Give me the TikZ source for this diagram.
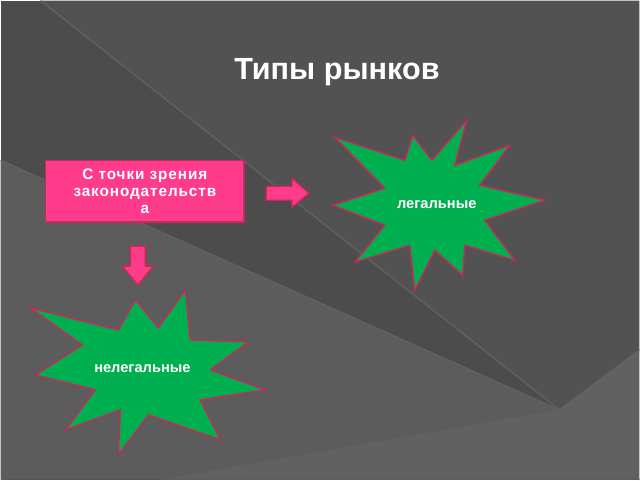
\documentclass[tikz,border=0pt]{standalone}
\usepackage{fontspec}
\setmainfont{Liberation Sans}
\begin{document}
\begin{tikzpicture}[x=0.75pt,y=-0.75pt,
  burst/.style={fill={rgb,255:red,0;green,176;blue,80}, draw={rgb,255:red,200;green,40;blue,90}, line width=1pt},
  pinkfill/.style={fill={rgb,255:red,255;green,60;blue,140}, draw={rgb,255:red,200;green,40;blue,90}, line width=1pt},
  lbl/.style={text=white, font=\bfseries}]
\fill[black!70] (0,0) rectangle (640,480);
\fill[black!68] (40,0) -- (640,0) -- (640,350) -- (560,410) -- cycle;
\fill[black!64] (0,160) -- (560,410) -- (640,480) -- (0,480) -- cycle;
\fill[black!62] (160,480) -- (560,410) -- (640,350) -- (640,480) -- cycle;
\draw[black!62, line width=1pt] (40,0) -- (560,410) -- (640,480);
\draw[black!62, line width=1pt] (560,410) -- (640,350);
\draw[black!62, line width=1pt] (0,160) -- (560,410);
\useasboundingbox (0,0) rectangle (640,480);
\node[lbl, font=\bfseries\fontsize{23}{27}\selectfont] (title) at (337,72) {Типы рынков};
\node[pinkfill, minimum width=149pt, minimum height=46pt, inner sep=2pt, align=center, lbl, font=\bfseries\fontsize{11.5}{13}\selectfont\addfontfeatures{LetterSpace=6}] (box) at (144.5,191) {С точки зрения\\законодательств\\а};
\path[burst] (467,120) -- (455,165) -- (510,145) -- (480,185) -- (545,200) -- (485,220) -- (515,260) -- (465,245) -- (463,275) -- (435,250) -- (415,290) -- (410,245) -- (355,262) -- (385,225) -- (333,205) -- (385,188) -- (335,137) -- (405,160) -- (413,135) -- (432,160) -- cycle;
\node[lbl, font=\bfseries\fontsize{11}{13}\selectfont] (legal) at (437,204) {легальные};
\path[burst] (185,290) -- (158,328) -- (135,300) -- (118,330) -- (30,308) -- (82,345) -- (35,375) -- (95,390) -- (65,430) -- (120,410) -- (118,455) -- (148,415) -- (220,440) -- (200,400) -- (265,390) -- (210,370) -- (248,342) -- (190,340) -- cycle;
\node[lbl, font=\bfseries\fontsize{11}{13}\selectfont] (illegal) at (142,369) {нелегальные};
\path[pinkfill] (266,186) -- (292,186) -- (292,178) -- (309,193) -- (292,207) -- (292,200) -- (266,200) -- cycle;
\path[pinkfill] (130,246) -- (145,246) -- (145,266) -- (153,266) -- (137.5,285) -- (122,266) -- (130,266) -- cycle;
\end{tikzpicture}
\end{document}
